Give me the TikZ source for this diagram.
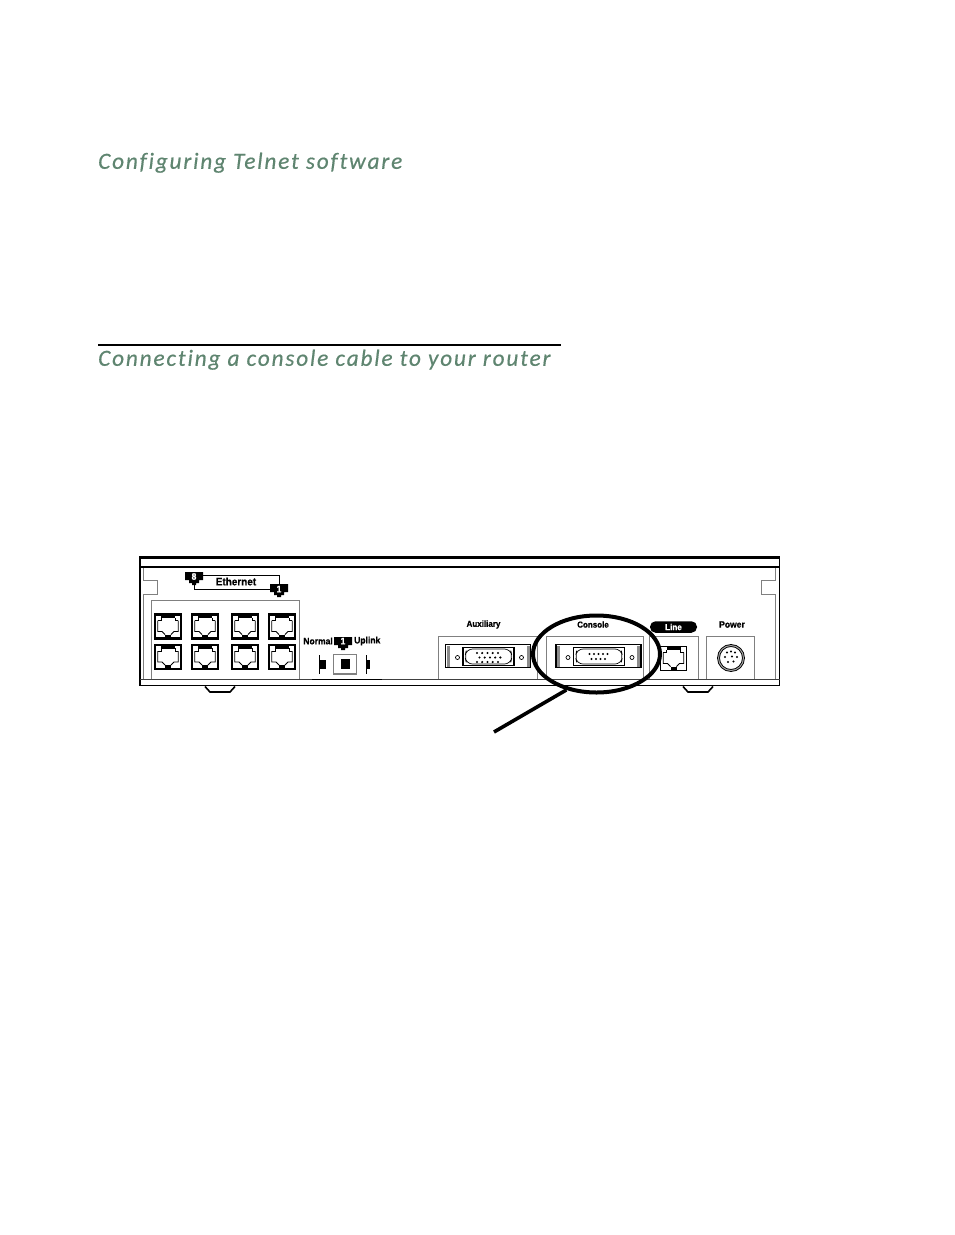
\documentclass[tikz,border=0pt]{standalone}
\usepackage{fontspec}
\usepackage{xcolor}
\usetikzlibrary{shapes.geometric}
\newfontfamily\headfont[LetterSpace=8,Ligatures=NoCommon,FakeBold=0.5]{Carlito}
\newfontfamily\labelfont[FakeStretch=0.92,FakeBold=0.6]{Liberation Sans}
\definecolor{headgreen}{HTML}{5F8570}
\definecolor{boxgray}{HTML}{808080}
\tikzset{
  heading/.style={anchor=base west,inner sep=0pt,text=headgreen,font=\headfont\fontsize{23.2}{26}\selectfont\itshape},
  portlabel/.style={inner sep=0pt,font=\labelfont\fontsize{9.3}{10}\selectfont\bfseries},
  narrowlabel/.style={inner sep=0pt,font=\labelfont\fontsize{8.7}{10}\selectfont\bfseries},
  graybox/.style={draw=boxgray,line width=0.9pt},
  tagtext/.style={inner sep=0pt,minimum width=18pt,minimum height=8pt,text=white,font=\labelfont\fontsize{9.4}{10}\selectfont\bfseries}
}
% jack with its corner at x,y
\newcommand{\rjjack}[3][2.2pt]{
  \begin{scope}[shift={(#2,#3)}]
    \draw[line width=#1,fill=white] (0,0) rectangle (26,24);
    \fill (6,0) rectangle (20,3.6);
    \fill (10,24) -- (10,20) -- (16,20) -- (16,24) -- cycle;
    \draw[line width=0.8pt] (2.8,6) -- (6,6) -- (6,3);
    \draw[line width=0.8pt] (23.2,6) -- (20,6) -- (20,3);
    \draw[line width=0.8pt] (2.8,6) -- (2.8,17) -- (7,17) -- (10,20);
    \draw[line width=0.8pt] (23.2,6) -- (23.2,17) -- (19,17) -- (16,20);
  \end{scope}
}
% d-sub plug, outer corner at x,y
\newcommand{\dsub}[2]{
  \begin{scope}[shift={(#1,#2)}]
    \draw[line width=1.2pt,fill=white] (0,0) rectangle (85,23);
    \fill[black!45] (1,1) rectangle (4,22);
    \fill[black!45] (81,1) rectangle (84,22);
    \draw[line width=0.7pt] (12,13) circle (2);
    \draw[line width=0.7pt] (76,13) circle (2);
    \draw[line width=1.1pt] (17.5,3) rectangle (68.5,21);
    \draw[line width=0.7pt,rounded corners=6pt] (21,4.5) -- (65,4.5) -- (66.5,12) -- (65,19.5) -- (21,19.5) -- (19.5,12) -- cycle;
  \end{scope}
}
% tag body, top centre at x,y
\newcommand{\tagbody}[2]{
  \fill[shift={(#1,#2)}] (-9,0) -- (9,0) -- (9,8) -- (5,8) -- (5,11) -- (2,11) -- (2,13) -- (-2,13) -- (-2,11) -- (-5,11) -- (-5,8) -- (-9,8) -- cycle;
}

\begin{document}
\begin{tikzpicture}[x=1pt,y=-1pt]
\useasboundingbox (0,0) rectangle (954,1235);
%headings
\node[heading] (configHead) at (98,168.8) {Configuring Telnet software};
\node[heading] (cableHead) at (98,365.8) {Connecting a console cable to your router};
\coordinate (ruleStart) at (98,344.5);
\coordinate (ruleEnd) at (561,344.5);
\draw[line width=2pt] (ruleStart) -- (ruleEnd);
%chassis
\draw[boxgray,line width=0.9pt] (143,567) -- (143,580) -- (157,580) -- (157,594) -- (143,594) -- (143,679);
\draw[boxgray,line width=0.9pt] (775,567) -- (775,580) -- (761,580) -- (761,594) -- (775,594) -- (775,679);
\draw[line width=1.6pt] (205,686.5) -- (210,692) -- (230,692) -- (235,686.5);
\draw[line width=1.6pt] (683,686.5) -- (688,692) -- (708,692) -- (713,686.5);
\draw[line width=1.5pt] (140,558) rectangle (779.5,685.5);
\draw[line width=2.4pt] (139.3,557.4) -- (780.2,557.4);
\draw[line width=1.3pt] (140,567) -- (779.5,567);
\draw[black!75,line width=1pt] (140,679.5) -- (779.5,679.5);
\draw[line width=1pt] (312,679.5) -- (382,679.5);
%ethernet
\draw[graybox] (151.5,679) -- (151.5,600.5) -- (299.5,600.5) -- (299.5,679);
\rjjack{155}{614.5}
\rjjack{192}{614.5}
\rjjack{232}{614.5}
\rjjack{269}{614.5}
\rjjack{155}{645}
\rjjack{192}{645}
\rjjack{232}{645}
\rjjack{269}{645}
\tagbody{194}{572}
\tagbody{279}{584}
\node[tagtext] (tagEight) at (194,576.5) {8};
\node[tagtext] (tagOne) at (279,589) {1};
\draw[line width=0.9pt] ([yshift=1pt]tagEight.east) -| (tagOne.north);
\draw[line width=0.9pt] ([yshift=-3pt]tagEight.south) |- (tagOne.west);
\node[portlabel,font=\labelfont\fontsize{10.8}{12}\selectfont\bfseries] (ethernetLabel) at (236,581.5) {Ethernet};
%switch
\node[portlabel,anchor=east] (normalLabel) at (333,641) {Normal};
\node[portlabel,anchor=west] (uplinkLabel) at (354,641) {Uplink};
\tagbody{343}{637}
\node[tagtext] (tagSwitch) at (343,641) {1};
\draw[boxgray,line width=1.3pt] (333.5,654.5) rectangle (356.5,674);
\fill (341,659) rectangle (350,669);
\draw[line width=0.9pt] (319.5,655) -- (319.5,674);
\fill (319.5,660) rectangle (326,669);
\draw[line width=0.9pt] (366.5,655) -- (366.5,674);
\fill (366.5,660) rectangle (370,669);
%auxiliary
\node[narrowlabel] (auxLabel) at (483.5,624.5) {Auxiliary};
\draw[graybox] (438.5,679) -- (438.5,636) -- (537,636) -- (537,679);
\dsub{445.5}{644.5}
\fill (477,653) circle (1.2) (482.2,653) circle (1.2) (487.5,653) circle (1.2) (492.7,653) circle (1.2) (498,653) circle (1.2)
 (479.5,657.5) circle (1.2) (484.7,657.5) circle (1.2) (490,657.5) circle (1.2) (495.2,657.5) circle (1.2) (500.4,657.5) circle (1.2)
 (477,662) circle (1.2) (482.2,662) circle (1.2) (487.5,662) circle (1.2) (492.7,662) circle (1.2) (498,662) circle (1.2);
%console
\node[narrowlabel] (consoleLabel) at (593,624.5) {Console};
\draw[graybox] (546,679) -- (546,636) -- (643,636) -- (643,679);
\dsub{556}{644.5}
\fill (589.5,654) circle (1.2) (594,654) circle (1.2) (598.5,654) circle (1.2) (603,654) circle (1.2) (607.5,654) circle (1.2)
 (591.5,659) circle (1.2) (596,659) circle (1.2) (600.5,659) circle (1.2) (605,659) circle (1.2);
%line
\node[fill=black,text=white,rounded corners=5.5pt,minimum width=47pt,minimum height=11.5pt,inner sep=0pt,font=\labelfont\fontsize{8.8}{10}\selectfont\bfseries] (linePill) at (673.5,627) {Line};
\draw[graybox] (649,679) -- (649,636) -- (698,636) -- (698,679);
\rjjack[1.3pt]{660.5}{646.5}
%power
\node[portlabel] (powerLabel) at (732,624.5) {Power};
\draw[graybox] (706.5,679) -- (706.5,636) -- (754.5,636) -- (754.5,679);
\draw[line width=0.9pt,double=black!35,double distance=1pt] (731,658) circle (12.5);
\fill (727,652.5) circle (1.1) (731,651.5) circle (1.1) (735,652.5) circle (1.1)
 (725,657) circle (1.1) (732,656.5) circle (1.1) (737,657) circle (1.1)
 (728,662) circle (1.1) (733.5,661.5) circle (1.1);
%ring
\node[draw,ellipse,line width=4pt,minimum width=127pt,minimum height=77pt,inner sep=0pt] (consoleRing) at (596.5,654) {};
\coordinate (leaderEnd) at (494,732);
\draw[line width=3.6pt] (consoleRing.230) -- (leaderEnd);
\end{tikzpicture}
\end{document}
